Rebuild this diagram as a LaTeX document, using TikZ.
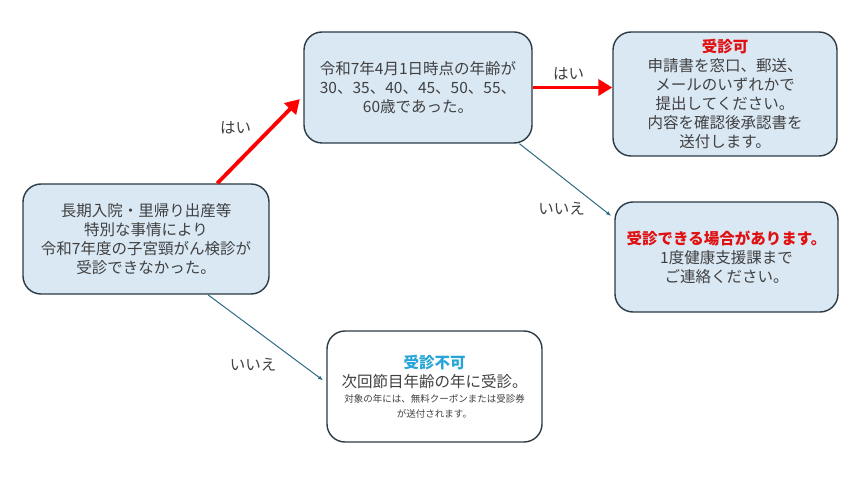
\documentclass[tikz,border=0pt]{standalone}
\usepackage{fontspec}
\setmainfont{Noto Sans CJK JP}
\usepackage{tikz}
\usetikzlibrary{arrows.meta}

\definecolor{boxfill}{HTML}{DAE8F4}
\definecolor{boxline}{HTML}{2B3A44}
\definecolor{txtgray}{HTML}{404040}
\definecolor{okred}{HTML}{E01010}
\definecolor{ngcyan}{HTML}{28A5D7}
\definecolor{noteal}{HTML}{2E6A85}

\newcommand{\smalltxt}{\fontsize{9.5}{11}\selectfont}

\begin{document}
\begin{tikzpicture}[x=1pt, y=-1pt,
		every node/.style={font=\fontsize{15.5}{19}\selectfont, text=txtgray},
		box/.style={draw=boxline, fill=boxfill, line width=1.4pt, rounded corners=18pt, align=center, inner sep=4pt},
		yesarrow/.style={draw=red, line width=3.8pt, -{Triangle[length=14pt, width=16pt]}},
		noarrow/.style={draw=noteal, line width=1pt, -{Latex[length=5pt, width=4pt]}}]
		\useasboundingbox (0,0) rectangle (850,478);
		
		\node[box, minimum width=246pt, minimum height=110pt] (a) at (146,239)
			{長期入院・里帰り出産等\\特別な事情により\\令和7年度の子宮頸がん検診が\\受診できなかった。};
		\node[box, minimum width=228pt, minimum height=111pt] (b) at (418,87.5)
			{令和7年4月1日時点の年齢が\\30、35、40、45、50、55、\\60歳であった。};
		\node[box, minimum width=224pt, minimum height=124pt] (c) at (725,94)
			{\textcolor{okred}{\bfseries 受診可}\\申請書を窓口、郵送、\\メールのいずれかで\\提出してください。\\内容を確認後承認書を\\送付します。};
		\node[box, minimum width=223pt, minimum height=110pt] (d) at (726.5,257)
			{\textcolor{okred}{\bfseries 受診できる場合があります。}\\1度健康支援課まで\\ご連絡ください。};
		\node[box, fill=white, minimum width=215pt, minimum height=111pt] (e) at (434.5,386.5)
			{\textcolor{ngcyan}{\bfseries 受診不可}\\次回節目年齢の年に受診。\\[-4pt]
			\smalltxt 対象の年には、無料クーポンまたは受診券\\[-4pt]\smalltxt が送付されます。};
		
		\draw[yesarrow, shorten >=5pt] (a.38.6) to node[midway, anchor=south east, xshift=-4pt] (y1) {はい} (b.184);
		\draw[yesarrow] (b.east) to node[midway, above=2pt, xshift=-4pt] (y2) {はい} (b.east -| c.west);
		\draw[noarrow, shorten >=4pt] (b.-29) to node[pos=0.73, anchor=north east] (n1) {いいえ} (d.161.5);
		\draw[noarrow, shorten >=4pt] (a.-42) to node[pos=0.61, anchor=north east, yshift=-6pt] (n2) {いいえ} (e.178);
	\end{tikzpicture}
\end{document}
